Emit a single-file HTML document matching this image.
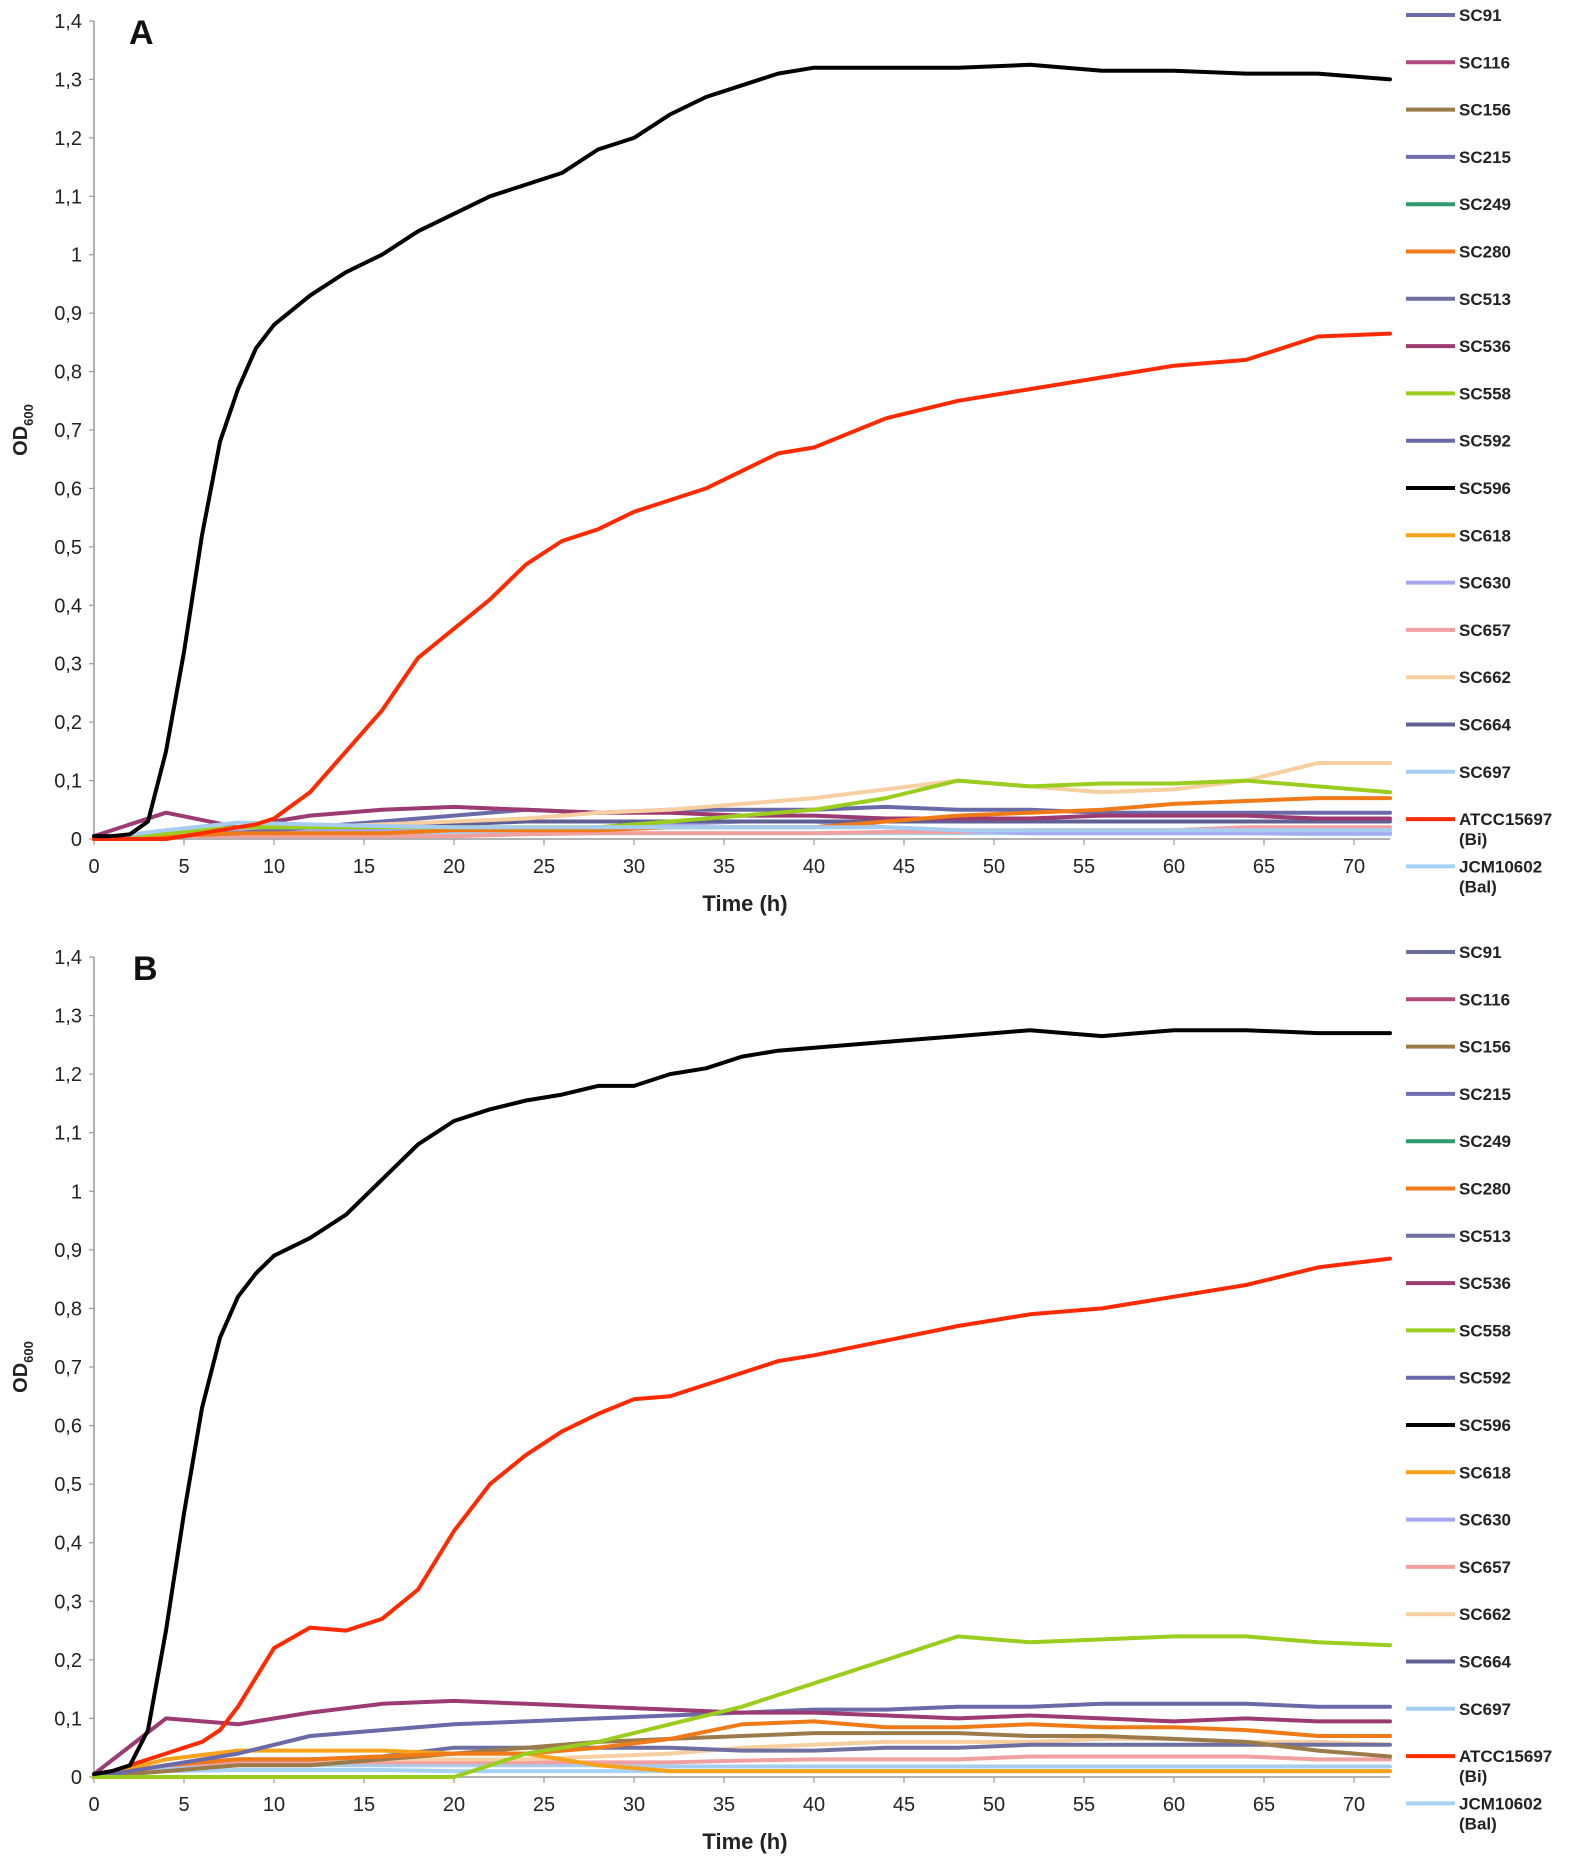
<!DOCTYPE html>
<html><head><meta charset="utf-8">
<style>
body{margin:0;background:#fff;}
svg{display:block;font-family:"Liberation Sans",Arial,sans-serif;}
</style></head>
<body>
<svg id="chart" width="1575" height="1862" viewBox="0 0 1575 1862" xmlns="http://www.w3.org/2000/svg"></svg>
<script>
const T = [0,1,2,3,4,5,6,7,8,9,10,12,14,16,18,20,22,24,26,28,30,32,34,36,38,40,44,48,52,56,60,64,68,72];
const TS = [0,4,8,12,16,20,24,28,32,36,40,44,48,52,56,60,64,68,72];
const legendNames = ["SC91","SC116","SC156","SC215","SC249","SC280","SC513","SC536","SC558","SC592","SC596","SC618","SC630","SC657","SC662","SC664","SC697","ATCC15697|(Bi)","JCM10602|(Bal)"];
const legendColors = ["#6b6ba3","#b04a7a","#9c7b4a","#6f6fb0","#2e9a6e","#f07a18","#7070a0","#9c3a72","#9acd1e","#6a6aa8","#000000","#f7a21b","#a8a8f0","#f0a0a0","#f7cfa0","#606094","#a6cdf0","#ff2a00","#a6d2f5"];
const yTicks = ["0","0,1","0,2","0,3","0,4","0,5","0,6","0,7","0,8","0,9","1","1,1","1,2","1,3","1,4"];
const xTicks = [0,5,10,15,20,25,30,35,40,45,50,55,60,65,70];

// Panel A fine series (on T)
const aSC596 = [0.005,0.005,0.008,0.03,0.15,0.32,0.52,0.68,0.77,0.84,0.88,0.93,0.97,1.0,1.04,1.07,1.10,1.12,1.14,1.18,1.20,1.24,1.27,1.29,1.31,1.32,1.32,1.32,1.325,1.315,1.315,1.31,1.31,1.30];
const aATCC = [0,0,0,0,0,0.005,0.01,0.015,0.02,0.025,0.035,0.08,0.15,0.22,0.31,0.36,0.41,0.47,0.51,0.53,0.56,0.58,0.60,0.63,0.66,0.67,0.72,0.75,0.77,0.79,0.81,0.82,0.86,0.865];
// Panel A small series (on TS)
const aSC558 = [0,0.01,0.02,0.02,0.02,0.02,0.02,0.02,0.03,0.04,0.05,0.07,0.10,0.09,0.095,0.095,0.10,0.09,0.08];
const aSC662 = [0,0.01,0.02,0.02,0.025,0.03,0.035,0.045,0.05,0.06,0.07,0.085,0.10,0.09,0.08,0.085,0.10,0.13,0.13];
const aSC280 = [0,0.005,0.01,0.01,0.01,0.015,0.015,0.015,0.02,0.02,0.02,0.03,0.04,0.045,0.05,0.06,0.065,0.07,0.07];
const aSC536 = [0.005,0.045,0.02,0.04,0.05,0.055,0.05,0.045,0.045,0.04,0.04,0.035,0.035,0.035,0.04,0.04,0.04,0.035,0.035];
const aSC592 = [0,0.01,0.01,0.02,0.03,0.04,0.05,0.045,0.05,0.05,0.05,0.055,0.05,0.05,0.045,0.045,0.045,0.045,0.045];
const aSC664 = [0,0.005,0.01,0.02,0.02,0.025,0.03,0.03,0.03,0.03,0.03,0.03,0.03,0.03,0.03,0.03,0.03,0.03,0.03];
const aSC697 = [0,0.015,0.028,0.025,0.022,0.02,0.02,0.02,0.02,0.02,0.02,0.02,0.015,0.015,0.015,0.015,0.015,0.015,0.015];
const aSC630 = [0,0.01,0.015,0.015,0.015,0.015,0.02,0.02,0.025,0.03,0.03,0.02,0.015,0.01,0.01,0.01,0.01,0.01,0.01];
const aSC657 = [0,0.005,0.005,0.005,0.005,0.005,0.008,0.01,0.01,0.01,0.01,0.012,0.012,0.015,0.015,0.015,0.02,0.02,0.02];
const aJCM = [0,0.01,0.02,0.015,0.012,0.01,0.01,0.01,0.01,0.01,0.01,0.01,0.01,0.01,0.01,0.01,0.01,0.008,0.008];

// Panel B fine series
const bSC596 = [0.005,0.01,0.02,0.08,0.25,0.45,0.63,0.75,0.82,0.86,0.89,0.92,0.96,1.02,1.08,1.12,1.14,1.155,1.165,1.18,1.18,1.20,1.21,1.23,1.24,1.245,1.255,1.265,1.275,1.265,1.275,1.275,1.27,1.27];
const bATCC = [0.005,0.01,0.02,0.03,0.04,0.05,0.06,0.08,0.12,0.17,0.22,0.255,0.25,0.27,0.32,0.42,0.50,0.55,0.59,0.62,0.645,0.65,0.67,0.69,0.71,0.72,0.745,0.77,0.79,0.80,0.82,0.84,0.87,0.885];
// Panel B small series
const bSC558 = [0,0,0,0,0,0,0.04,0.06,0.09,0.12,0.16,0.20,0.24,0.23,0.235,0.24,0.24,0.23,0.225];
const bSC536 = [0.005,0.10,0.09,0.11,0.125,0.13,0.125,0.12,0.115,0.11,0.11,0.105,0.10,0.105,0.10,0.095,0.10,0.095,0.095];
const bSC592 = [0,0.02,0.04,0.07,0.08,0.09,0.095,0.10,0.105,0.11,0.115,0.115,0.12,0.12,0.125,0.125,0.125,0.12,0.12];
const bSC280 = [0,0.02,0.03,0.03,0.035,0.04,0.04,0.05,0.065,0.09,0.095,0.085,0.085,0.09,0.085,0.085,0.08,0.07,0.07];
const bSC156 = [0,0.01,0.02,0.02,0.03,0.04,0.05,0.06,0.065,0.07,0.075,0.075,0.075,0.07,0.07,0.065,0.06,0.045,0.035];
const bSC618 = [0,0.03,0.045,0.045,0.045,0.04,0.04,0.02,0.01,0.01,0.01,0.01,0.01,0.01,0.01,0.01,0.01,0.01,0.01];
const bSC513 = [0,0.02,0.03,0.03,0.035,0.05,0.05,0.05,0.05,0.045,0.045,0.05,0.05,0.055,0.055,0.055,0.055,0.055,0.055];
const bSC662 = [0,0.02,0.03,0.03,0.03,0.03,0.03,0.035,0.04,0.05,0.055,0.06,0.06,0.06,0.065,0.065,0.06,0.06,0.055];
const bSC657 = [0,0.02,0.025,0.025,0.025,0.025,0.025,0.025,0.025,0.028,0.03,0.03,0.03,0.035,0.035,0.035,0.035,0.03,0.03];
const bSC697 = [0,0.015,0.02,0.02,0.02,0.02,0.02,0.02,0.018,0.018,0.018,0.018,0.018,0.018,0.018,0.018,0.018,0.018,0.018];
const bJCM = [0,0.01,0.012,0.012,0.012,0.01,0.01,0.01,0.01,0.01,0.01,0.01,0.01,0.01,0.01,0.01,0.01,0.01,0.01];

const NS = "http://www.w3.org/2000/svg";
const svg = document.getElementById("chart");
function mk(tag, attrs, parent){
  const e = document.createElementNS(NS, tag);
  for (const k in attrs) e.setAttribute(k, attrs[k]);
  (parent||svg).appendChild(e);
  return e;
}
const X0 = 94, PXH = 18.0, XMAX = 72;
function xs(t){ return X0 + t*PXH; }

function panel(key, letter, y0, yTop, legendTop, series){
  const g = mk("g", {});
  
  
  const ys = v => y0 - v/1.4*(y0-yTop);
  // axes
  const ya = mk("line",{x1:X0,y1:yTop,x2:X0,y2:y0,stroke:"#999","stroke-width":1.5},g);
  
  
  const xa = mk("line",{x1:X0,y1:y0,x2:xs(XMAX),y2:y0,stroke:"#999","stroke-width":1.5},g);
  
  
  yTicks.forEach((lab,i)=>{
    const v = i*0.1, y = ys(v);
    mk("line",{x1:X0-5,y1:y,x2:X0,y2:y,stroke:"#999","stroke-width":1.2},g);
    const t = mk("text",{x:X0-12,y:y+7,"text-anchor":"end","font-size":20,fill:"#222"},g);
    t.textContent = lab;
    
    
  });
  xTicks.forEach(v=>{
    const x = xs(v);
    mk("line",{x1:x,y1:y0,x2:x,y2:y0+6,stroke:"#999","stroke-width":1.2},g);
    const t = mk("text",{x:x,y:y0+34,"text-anchor":"middle","font-size":20,fill:"#222"},g);
    t.textContent = v;
    
    
  });
  const xt = mk("text",{x:745,y:y0+72,"text-anchor":"middle","font-size":22,"font-weight":"bold",fill:"#222"},g);
  xt.textContent = "Time (h)";
  
  
  const ymid = (y0+yTop)/2;
  const yt = mk("text",{x:0,y:0,transform:`translate(27,${ymid}) rotate(-90)`,"text-anchor":"middle","font-size":20,"font-weight":"bold",fill:"#222"},g);
  yt.innerHTML = 'OD<tspan font-size="13" dy="6">600</tspan>';
  
  
  const pl = mk("text",{x:letter==="A"?129:133,y:yTop+23,"font-size":34,"font-weight":"bold",fill:"#111"},g);
  pl.textContent = letter;
  
  
  // series (draw in given order)
  series.forEach(s=>{
    const times = s.vals.length === T.length ? T : TS;
    const d = s.vals.map((v,i)=>(i?"L":"M")+xs(times[i]).toFixed(1)+","+ys(v).toFixed(1)).join(" ");
    const p = mk("path",{d:d,fill:"none",stroke:legendColors[s.idx],"stroke-width":s.w||4,"stroke-linejoin":"round","stroke-linecap":"round"},g);
    
    
  });
  // legend
  legendNames.forEach((n,i)=>{
    const y = legendTop + i*47.3;
    const lg = mk("g",{},g);
    
    
    mk("line",{x1:1406,y1:y,x2:1455,y2:y,stroke:legendColors[i],"stroke-width":4},lg);
    const parts = n.split("|");
    parts.forEach((p,j)=>{
      const t = mk("text",{x:1459,y:y+6+j*20,"font-size":17,"font-weight":"bold",fill:"#222"},lg);
      t.textContent = p;
    });
  });
}

panel("a","A",839,21,15,[
  {idx:18,vals:aJCM},{idx:13,vals:aSC657},{idx:12,vals:aSC630},{idx:15,vals:aSC664},
  {idx:9,vals:aSC592},{idx:7,vals:aSC536},{idx:5,vals:aSC280},{idx:14,vals:aSC662},
  {idx:8,vals:aSC558},{idx:16,vals:aSC697},{idx:17,vals:aATCC},{idx:10,vals:aSC596}
]);
panel("b","B",1777,957,952,[
  {idx:18,vals:bJCM},{idx:16,vals:bSC697},{idx:13,vals:bSC657},{idx:14,vals:bSC662},
  {idx:6,vals:bSC513},{idx:11,vals:bSC618},{idx:2,vals:bSC156},{idx:5,vals:bSC280},
  {idx:9,vals:bSC592},{idx:7,vals:bSC536},{idx:8,vals:bSC558},{idx:17,vals:bATCC},{idx:10,vals:bSC596}
]);
</script>
</body></html>
